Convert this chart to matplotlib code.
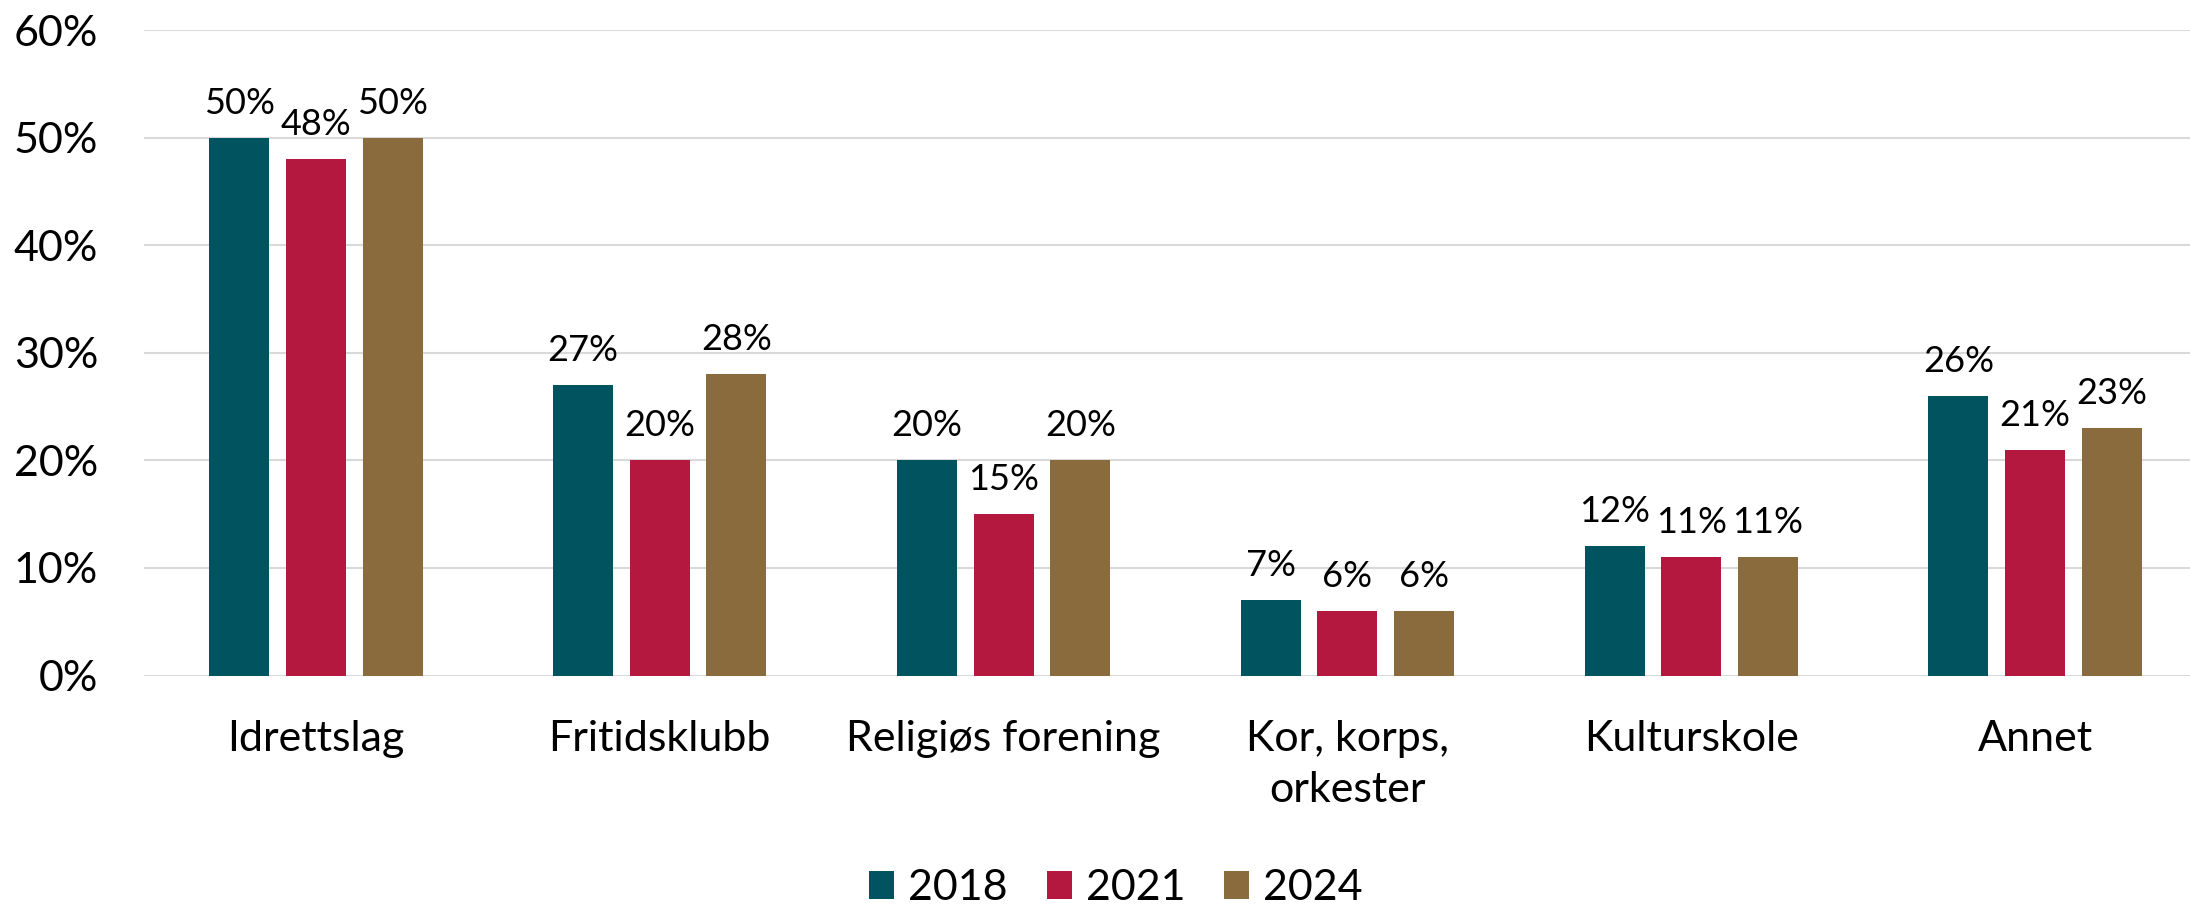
import matplotlib
matplotlib.use("Agg")
import matplotlib.pyplot as plt
from matplotlib.ticker import FixedLocator
import numpy as np

plt.rcParams['font.family'] = ['Lato', 'DejaVu Sans']

categories = ["Idrettslag", "Fritidsklubb", "Religiøs forening", "Kor, korps,\norkester", "Kulturskole", "Annet"]
years = ["2018", "2021", "2024"]
v2018 = [50, 27, 20, 7, 12, 26]
v2021 = [48, 20, 15, 6, 11, 21]
v2024 = [50, 28, 20, 6, 11, 23]
series = [v2018, v2021, v2024]
colors = ["#00535F", "#B5183E", "#8A6B3E"]
yticks = [0, 10, 20, 30, 40, 50, 60]

W, H = 2190, 908
fig = plt.figure(figsize=(W / 100, H / 100), dpi=100)
left, right = 144 / W, 2207 / W
bottom, top = (H - 675.5) / H, (H - 30) / H
ax = fig.add_axes([left, bottom, right - left, top - bottom])

x = np.arange(len(categories))
bw = 0.1745
step = 0.223
for i, (vals, col, yr) in enumerate(zip(series, colors, years)):
    xs = x + (i - 1) * step
    ax.bar(xs, vals, width=bw, color=col, label=yr, zorder=3)
    for xi, v in zip(xs, vals):
        ax.annotate(f"{v}%", xy=(xi, v), xytext=(0, 17.3), textcoords="offset points",
                    ha="center", va="baseline", fontsize=26, color="black", zorder=4)

ax.set_xlim(-0.5, len(categories) - 0.5)
ax.set_ylim(0, 60)
ax.yaxis.set_major_locator(FixedLocator(yticks))
ax.set_yticklabels([f"{t}%" for t in yticks])
ax.grid(axis="y", color="#D9D9D9", linewidth=1.5, zorder=0)
ax.set_axisbelow(True)
for s in ax.spines.values():
    s.set_visible(False)
ax.tick_params(axis="y", length=0, pad=33, labelsize=31, labelcolor="black")
ax.set_xticks(x)
ax.set_xticklabels(categories, linespacing=1.42)
ax.tick_params(axis="x", length=0, pad=32, labelsize=31, labelcolor="black")

leg = fig.legend(loc="center", bbox_to_anchor=(1116 / W, 1 - 888 / H), ncol=3, frameon=False,
                 fontsize=31, handlelength=0.58, handleheight=0.65, handletextpad=0.33,
                 columnspacing=0.9)

fig.savefig("out.png", dpi=100)
